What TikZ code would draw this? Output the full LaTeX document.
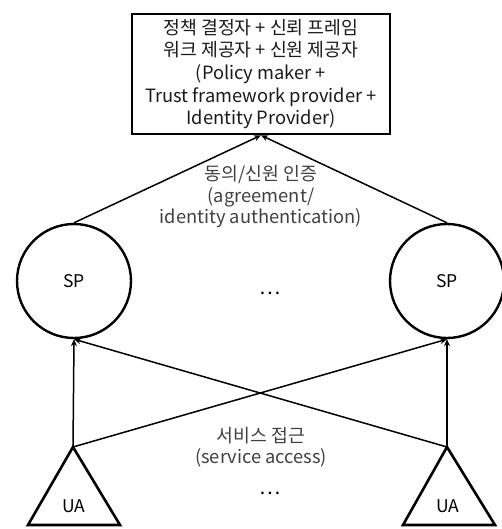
\documentclass[tikz,border=0pt]{standalone}
\usepackage{fontspec}
\setmainfont{Noto Sans CJK KR}
\usetikzlibrary{arrows.meta}
\definecolor{labelgray}{HTML}{404040}
\definecolor{boxtext}{HTML}{1A1A1A}
\begin{document}
\begin{tikzpicture}[x=1pt,y=-1pt,
  rolebox/.style={draw,line width=2.6pt,minimum width=258pt,minimum height=120pt,
    inner sep=0pt,align=center,text=boxtext,font=\fontsize{18.3}{22.6}\selectfont},
  party/.style={draw,circle,line width=2.4pt,minimum size=114pt,inner sep=0pt,
    font=\fontsize{17.5}{20}\selectfont},
  agent/.style={line width=2.6pt,line join=miter},
  agentname/.style={font=\fontsize{17.5}{20}\selectfont},
  midlabel/.style={align=center,text=labelgray,font=\fontsize{18.3}{21.5}\selectfont},
  link/.style={line width=1.5pt,-{Stealth[length=7pt,width=6pt]}},
  dotsmark/.style={font=\fontsize{20}{22}\selectfont}]
\useasboundingbox (0,0) rectangle (502,529);

% policy maker / trust framework provider / identity provider
\node[rolebox] (pm) at (261,74) {정책 결정자 + 신뢰 프레임\\워크 제공자 + 신원 제공자\\(Policy maker +\\Trust framework provider +\\Identity Provider)};

% service providers
\node[party] (sp1) at (74,281) {SP};
\node[party] (sp2) at (447,281) {SP};
\node[dotsmark] (spdots) at (270,293) {\dots};

% user agents
\coordinate (ua1top) at (73,447);
\coordinate (ua2top) at (447,447);
\draw[agent] (ua1top) -- (28,525) -- (120,525) -- cycle;
\draw[agent] (ua2top) -- (403,525) -- (495,525) -- cycle;
\node[agentname] (ua1) at (74,506) {UA};
\node[agentname] (ua2) at (448,506) {UA};
\node[dotsmark] (uadots) at (270,493) {\dots};

% agreement / identity authentication
\draw[link] (sp1.north) -- (pm.south);
\draw[link] (sp2.north) -- (pm.south);
\node[midlabel] (authlbl) at (261,197) {동의/신원 인증\\(agreement/\\identity authentication)};

% service access
\draw[link] (ua1top) -- (sp1.south);
\draw[link] (ua2top) -- (sp2.south);
\draw[link] (ua1top) -- (sp2.south);
\draw[link] (ua2top) -- (sp1.south);
\node[midlabel] (acclbl) at (261,447) {서비스 접근\\(service access)};
\end{tikzpicture}
\end{document}
